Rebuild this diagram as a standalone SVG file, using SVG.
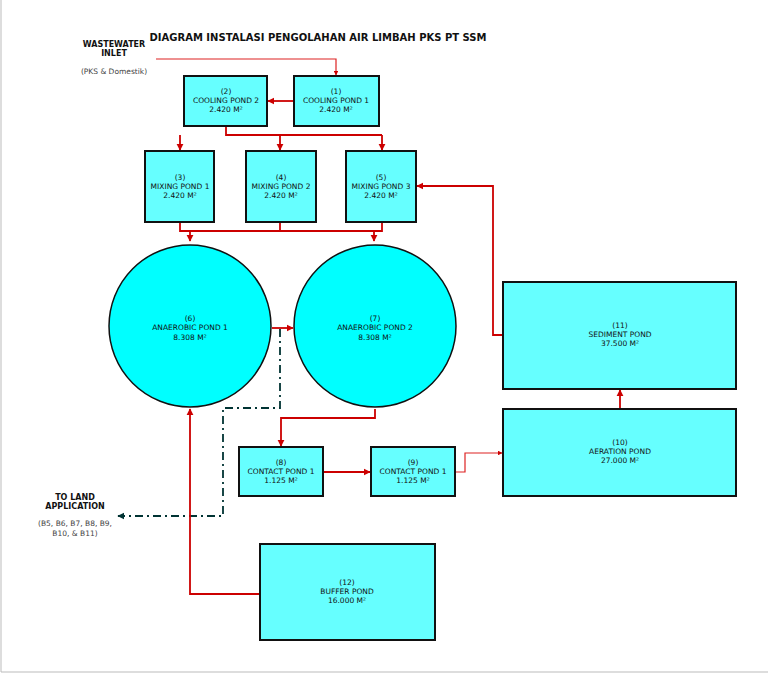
<svg xmlns="http://www.w3.org/2000/svg" width="768" height="673" viewBox="0 0 768 673">
<style>
text{font-family:Tahoma,"DejaVu Sans",sans-serif;font-size:7.5px;fill:#111;text-anchor:middle}
.b{font-weight:bold;font-size:8px}
.t{font-weight:bold;font-size:10px}
.g{fill:#444}
.box{fill:#66ffff;stroke:#111;stroke-width:2}
.cir{fill:#00ffff;stroke:#111;stroke-width:1.5}
.r{fill:none;stroke:#cc0000;stroke-width:1.8}
.rt{fill:none;stroke:#dd2222;stroke-width:1.2}
.dd{fill:none;stroke:#003333;stroke-width:1.8;stroke-dasharray:8,4,2,4}
</style>
<defs>
<marker id="a" viewBox="0 0 10 10" refX="9" refY="5" markerWidth="4" markerHeight="4" orient="auto"><path d="M0,0L10,5L0,10z" fill="#cc0000"/></marker>
<marker id="d" viewBox="0 0 10 10" refX="9" refY="5" markerWidth="4" markerHeight="4" orient="auto"><path d="M0,0L10,5L0,10z" fill="#003333"/></marker>
</defs>
<rect width="768" height="673" fill="#fff"/>
<path d="M1,0V672H768" fill="none" stroke="#bbb"/>
<text class="t" x="318" y="41">DIAGRAM INSTALASI PENGOLAHAN AIR LIMBAH PKS PT SSM</text>
<text class="b" x="114" y="47">WASTEWATER</text>
<text class="b" x="114" y="56">INLET</text>
<text class="g" x="114" y="74">(PKS &amp; Domestik)</text>
<text class="b" x="75" y="500">TO LAND</text>
<text class="b" x="75" y="509">APPLICATION</text>
<text class="g" x="75" y="526">(B5, B6, B7, B8, B9,</text>
<text class="g" x="75" y="536">B10, &amp; B11)</text>
<g id="connectors">
<path class="rt" d="M156,59H336V75" marker-end="url(#a)"/>
<path class="r" d="M294,101H268" marker-end="url(#a)"/>
<path class="r" d="M226,127V135H382"/>
<path class="r" d="M180,135V150" marker-end="url(#a)"/>
<path class="r" d="M280,135V150" marker-end="url(#a)"/>
<path class="r" d="M382,135V150" marker-end="url(#a)"/>
<path class="r" d="M180,223V231H382V223M280,223V231"/>
<path class="r" d="M190,231V241" marker-end="url(#a)"/>
<path class="r" d="M374,231V241" marker-end="url(#a)"/>
<path class="r" d="M272,328H293" marker-end="url(#a)"/>
<path class="dd" d="M280,329V408H223V516H118" marker-end="url(#d)"/>
<path class="r" d="M375,409V418H281V446" marker-end="url(#a)"/>
<path class="r" d="M324,472H370" marker-end="url(#a)"/>
<path class="rt" d="M456,472H465V453H502" marker-end="url(#a)"/>
<path class="r" d="M620,408V390" marker-end="url(#a)"/>
<path class="r" d="M503,335H493V186H417" marker-end="url(#a)"/>
<path class="r" d="M260,594H190V409" marker-end="url(#a)"/>
</g>
<g id="n1"><rect class="box" x="294" y="76" width="85" height="50"/><text x="336" y="94">(1)</text><text x="336" y="103">COOLING POND 1</text><text x="336" y="112">2.420 M²</text></g>
<g id="n2"><rect class="box" x="184" y="76" width="83" height="50"/><text x="226" y="94">(2)</text><text x="226" y="103">COOLING POND 2</text><text x="226" y="112">2.420 M²</text></g>
<g id="n3"><rect class="box" x="145" y="151" width="69" height="71"/><text x="180" y="180">(3)</text><text x="180" y="189">MIXING POND 1</text><text x="180" y="198">2.420 M²</text></g>
<g id="n4"><rect class="box" x="246" y="151" width="70" height="71"/><text x="281" y="180">(4)</text><text x="281" y="189">MIXING POND 2</text><text x="281" y="198">2.420 M²</text></g>
<g id="n5"><rect class="box" x="346" y="151" width="70" height="71"/><text x="381" y="180">(5)</text><text x="381" y="189">MIXING POND 3</text><text x="381" y="198">2.420 M²</text></g>
<g id="n6"><circle class="cir" cx="190" cy="326" r="81"/><text x="190" y="321">(6)</text><text x="190" y="330">ANAEROBIC POND 1</text><text x="190" y="340">8.308 M²</text></g>
<g id="n7"><circle class="cir" cx="375" cy="326" r="81"/><text x="375" y="321">(7)</text><text x="375" y="330">ANAEROBIC POND 2</text><text x="375" y="340">8.308 M²</text></g>
<g id="n8"><rect class="box" x="239" y="447" width="84" height="49"/><text x="281" y="465">(8)</text><text x="281" y="474">CONTACT POND 1</text><text x="281" y="483">1.125 M²</text></g>
<g id="n9"><rect class="box" x="371" y="447" width="84" height="49"/><text x="413" y="465">(9)</text><text x="413" y="474">CONTACT POND 1</text><text x="413" y="483">1.125 M²</text></g>
<g id="n10"><rect class="box" x="503" y="409" width="233" height="87"/><text x="620" y="445">(10)</text><text x="620" y="454">AERATION POND</text><text x="620" y="463">27.000 M²</text></g>
<g id="n11"><rect class="box" x="503" y="282" width="233" height="107"/><text x="620" y="328">(11)</text><text x="620" y="337">SEDIMENT POND</text><text x="620" y="346">37.500 M²</text></g>
<g id="n12"><rect class="box" x="260" y="544" width="175" height="96"/><text x="347" y="585">(12)</text><text x="347" y="594">BUFFER POND</text><text x="347" y="603">16.000 M²</text></g>
</svg>
